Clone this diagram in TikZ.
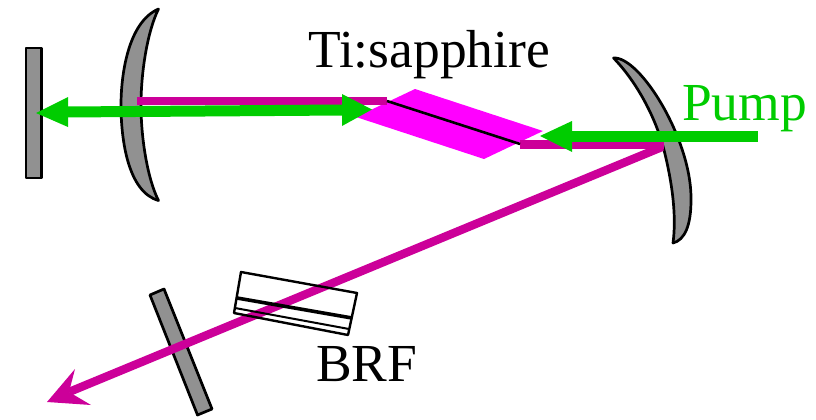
\documentclass[tikz,border=0pt]{standalone}
\usepackage{fontspec}
\setmainfont{Liberation Serif}
\definecolor{beam}{HTML}{CC0099}
\definecolor{pumpgreen}{HTML}{00CC00}
\definecolor{mirrorgray}{HTML}{919191}
\definecolor{crystal}{HTML}{FF00FF}
\tikzset{
  mirror/.style={draw=black,fill=mirrorgray,line width=2.7pt,line join=round},
  beamline/.style={draw=beam,line width=8.4pt},
  greenline/.style={draw=pumpgreen,line width=11pt},
  greenhead/.style={fill=pumpgreen},
  label/.style={anchor=base west,inner sep=0pt,font=\fontsize{53.5}{54}\selectfont}
}
\begin{document}
\begin{tikzpicture}[x=1pt,y=-1pt]
\useasboundingbox (0,0) rectangle (816,420);
% mirrors
\draw[mirror] (26,48) rectangle (41.5,178);
\draw[mirror] (158.5,9) .. controls (128,22) and (121,75) .. (121,105) .. controls (121,140) and (128,192) .. (158.5,200.5)
   .. controls (148,180) and (141,140) .. (141,105) .. controls (141,70) and (148,30) .. (158.5,9) -- cycle;
\draw[mirror] (613.5,58) .. controls (640,56) and (692,140) .. (691,200) .. controls (691,225) and (685,240) .. (673,243)
   .. controls (676,220) and (674,190) .. (664,150) .. controls (655,115) and (635,80) .. (613.5,58) -- cycle;
\draw[mirror] (150,295) -- (164,289) -- (212,409) -- (197.5,415) -- cycle;
% crystal
\fill[crystal] (415,89) -- (543,131) -- (484,159) -- (356,117) -- cycle;
% beam
\draw[beamline] (137,101) -- (387,101);
\draw[beamline] (520,144.5) -- (663.5,144.5);
\begin{scope}
\clip (0,0) rectangle (663.5,420);
\draw[beamline] (668,144.5) -- (69,392);
\end{scope}
\fill[beam] (47,402) -- (75,369) -- (69,392) -- (91,405) -- cycle;
% BRF
\draw[line width=2.4pt,line join=round] (241,272) -- (357,293) -- (348,335) -- (234,313) -- cycle;
\draw[line width=3.6pt] (237,298) -- (352,318);
\draw[line width=2pt] (235,308) -- (349,329);
\draw[line width=2.6pt] (387,101) -- (520,144);
% green
\draw[greenline] (66,112) -- (344,110);
\fill[greenhead] (36,113) -- (68,97) -- (68,127) -- cycle;
\fill[greenhead] (372,109.5) -- (342,94) -- (342,126) -- cycle;
\draw[greenline] (570,136) -- (758,136);
\fill[greenhead] (540,136) -- (572,121) -- (572,152) -- cycle;
% labels
\node[label] (ti) at (308,67) {Ti:sapphire};
\node[label,text=pumpgreen] (pump) at (682,120) {Pump};
\node[label] (brf) at (316,381) {BRF};
\end{tikzpicture}
\end{document}
